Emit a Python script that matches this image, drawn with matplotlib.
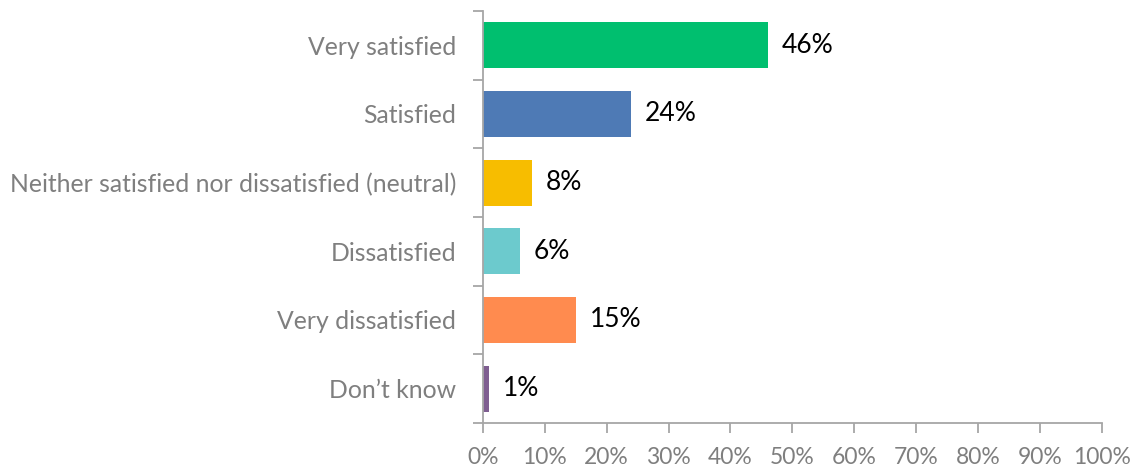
import matplotlib
matplotlib.use("Agg")
import matplotlib.pyplot as plt
from matplotlib.ticker import FuncFormatter

categories = [
    "Very satisfied",
    "Satisfied",
    "Neither satisfied nor dissatisfied (neutral)",
    "Dissatisfied",
    "Very dissatisfied",
    "Don\u2019t know",
]
values = [46, 24, 8, 6, 15, 1]
colors = ["#00BF6F", "#4E7AB5", "#F7BD00", "#6CCACD", "#FF8B4F", "#7F5E91"]
x_ticks = list(range(0, 101, 10))

plt.rcParams["font.family"] = ["Lato", "DejaVu Sans"]

fig = plt.figure(figsize=(11.37, 4.70), dpi=100)
ax = fig.add_axes([0.4248, 0.1, 0.969 - 0.4248, 0.9766 - 0.1])

n = len(categories)
ypos = list(range(n))
ax.barh(ypos, values, height=0.67, color=colors, zorder=2)

for y, v in zip(ypos, values):
    ax.text(v + 2.2, y, f"{v}%", va="center", ha="left",
            fontsize=19, color="black")

ax.set_xlim(0, 100)
ax.set_ylim(n - 0.5, -0.5)

axis_col = "#A6A6A6"
for side in ("top", "right"):
    ax.spines[side].set_visible(False)
for side in ("left", "bottom"):
    ax.spines[side].set_color(axis_col)
    ax.spines[side].set_linewidth(1.3)

ax.set_xticks(x_ticks)
ax.xaxis.set_major_formatter(FuncFormatter(lambda v, p: f"{v:.0f}%"))
ax.tick_params(axis="x", colors=axis_col, labelcolor="#7F7F7F",
               length=7, width=1.3, labelsize=16.5, pad=10.5)

# category names sit between the boundary tick marks on the left axis
ax.set_yticks(ypos)
ax.set_yticklabels(categories)
ax.tick_params(axis="y", which="major", length=0, labelsize=17.8,
               labelcolor="#7F7F7F", pad=19.5)
ax.set_yticks([i - 0.5 for i in range(n + 1)], minor=True)
ax.tick_params(axis="y", which="minor", length=7, width=1.3, colors=axis_col)

fig.savefig("out.png", dpi=100)
